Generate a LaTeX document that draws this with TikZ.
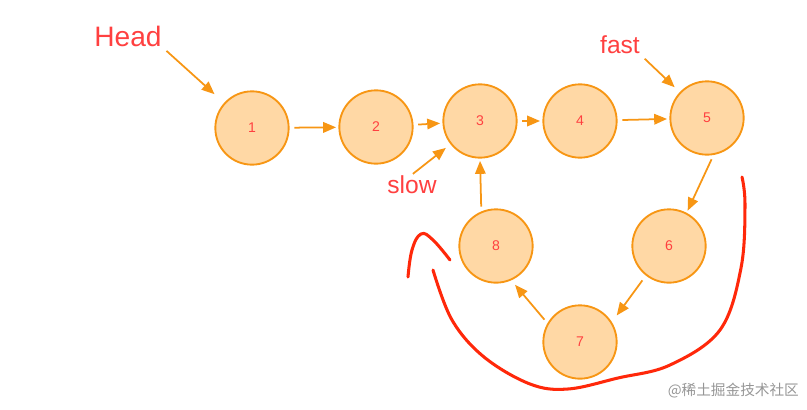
\documentclass[tikz,border=0pt]{standalone}
\usepackage{fontspec}
\setmainfont{Liberation Sans}
\newfontfamily\cjkfont{Noto Sans CJK SC}
\usetikzlibrary{arrows.meta}
\definecolor{nodeFill}{RGB}{255, 216, 165}
\definecolor{nodeLine}{RGB}{247, 150, 20}
\definecolor{labelRed}{RGB}{255, 64, 64}
\definecolor{penRed}{RGB}{255, 40, 10}
\definecolor{markGray}{RGB}{150, 150, 150}

\begin{document}
\begin{tikzpicture}[
  x=0.03cm,y=-0.03cm,
  elem/.style={circle, draw=nodeLine, fill=nodeFill, line width=1.6pt, minimum size=2.2cm, inner sep=0pt, font=\fontsize{12}{12}\selectfont, text=labelRed},
  tag/.style={font=\fontsize{21}{21}\selectfont, text=labelRed, inner sep=1pt},
  link/.style={draw=nodeLine, line width=1.5pt, -{Triangle[length=11pt,width=9pt]}, shorten <=4pt, shorten >=2pt},
  pen/.style={draw=penRed, line width=2.6pt, line cap=round, line join=round}
]
\path[use as bounding box] (0,0) rectangle (807,409);

% list nodes
\node[elem] (n1) at (252,128) {1};
\node[elem] (n2) at (376,127) {2};
\node[elem] (n3) at (480,121) {3};
\node[elem] (n4) at (580,121) {4};
\node[elem] (n5) at (707,118) {5};
\node[elem] (n6) at (669,246) {6};
\node[elem] (n7) at (580,342) {7};
\node[elem] (n8) at (496,246) {8};

% pointer labels
\node[tag, font=\fontsize{24}{24}\selectfont] (lblhead) at (128,36) {Head};
\node[tag] (lblslow) at (412,185) {slow};
\node[tag] (lblfast) at (620,45) {fast};

% next pointers
\draw[link] (n1) -- (n2);
\draw[link] (n2) -- (n3);
\draw[link] (n3) -- (n4);
\draw[link] (n4) -- (n5);
\draw[link] (n5.-80) -- (n6.62);
\draw[link, shorten <=5pt, shorten >=7pt] (n6.-128) -- (n7.32);
\draw[link, shorten >=5pt] (n7.150) -- (n8.-66);
\draw[link] (n8.113) -- (n3.south);

\draw[link, shorten >=11pt] (lblhead.south east) -- (n1);
\draw[link, shorten <=1pt, shorten >=5pt] (lblslow.north) -- (n3);
\draw[link, shorten >=6pt] (lblfast.south east) -- (n5);

% hand drawn loop
\draw[pen] plot[smooth, tension=0.6] coordinates {(742,177) (745,205) (741,268) (720,330) (670,365) (618,378) (568,389) (530,384) (484,357) (452,320) (433,270)};
\draw[pen] plot[smooth, tension=0.7] coordinates {(408,277) (412,250) (421,234) (433,240) (450,260)};

\node[font=\cjkfont\fontsize{12.5}{12.5}\selectfont, text=markGray, anchor=east] (mark) at (803,391) {@稀土掘金技术社区};
\end{tikzpicture}
\end{document}
